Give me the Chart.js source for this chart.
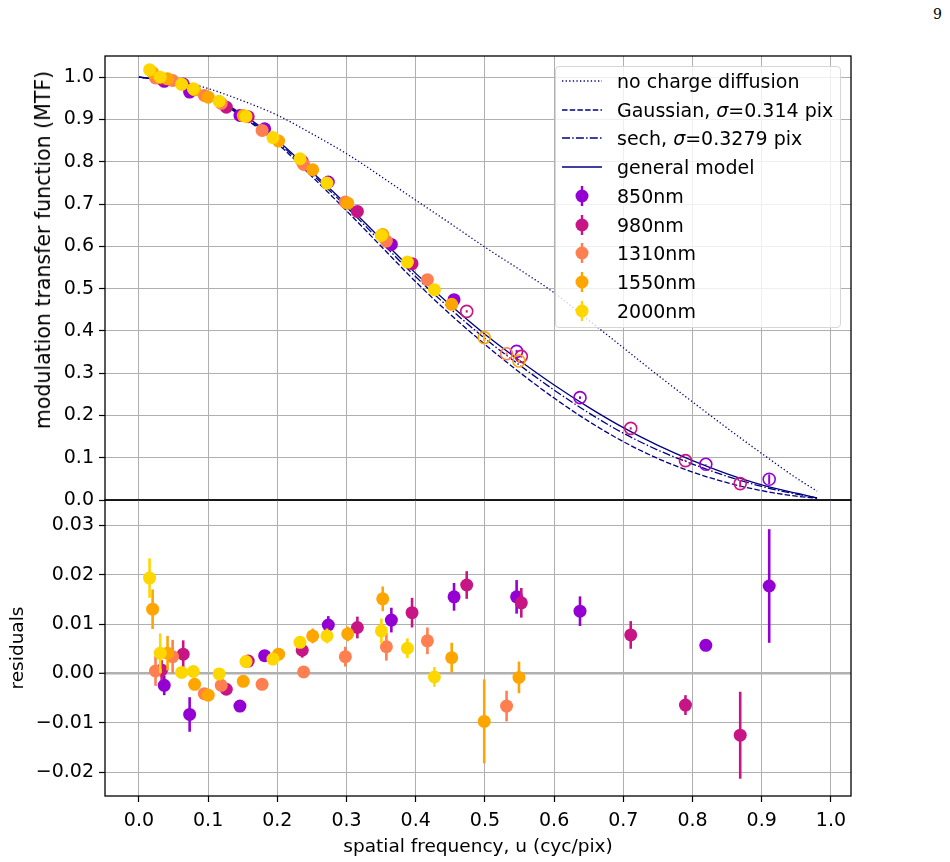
<!DOCTYPE html>
<html><head><meta charset="utf-8">
<script src="https://cdn.jsdelivr.net/npm/chart.js@4.4.1/dist/chart.umd.min.js"></script>
<style>
html,body{margin:0;padding:0;background:#fff;width:950px;height:862px;overflow:hidden;font-family:"DejaVu Sans",sans-serif;}
#wtop{position:absolute;left:0;top:0;width:950px;height:516px;}
#wbot{position:absolute;left:0;top:490px;width:950px;height:372px;}
#pageno{position:absolute;left:933px;top:6px;font-family:"DejaVu Serif",serif;font-size:14px;color:#000;}
#ylabTop{position:absolute;left:43px;top:250px;width:0;height:0;}
#ylabTop span{position:absolute;left:0;top:0;transform:translate(-50%,-50%) rotate(-90deg);white-space:nowrap;font-size:20.5px;line-height:24px;color:#000;}
#legend{position:absolute;left:555px;top:66px;width:286px;height:262px;box-sizing:border-box;border:1px solid #d6d6d6;border-radius:4px;background:rgba(255,255,255,0.8);}
.row{position:absolute;left:0;height:28px;width:280px;}
.row svg{position:absolute;left:5px;top:0;}
.row span{position:absolute;left:61px;top:2px;font-size:19px;line-height:24px;color:#000;white-space:nowrap;}
</style></head>
<body>
<div id="pageno">9</div>
<div id="wtop"><canvas id="ctop" width="950" height="516"></canvas></div>
<div id="wbot"><canvas id="cbot" width="950" height="372"></canvas></div>
<div id="ylabTop"><span id="ylabTopText"></span></div>
<div id="legend"></div>
<script>
// ---------- data ----------
const X_TICKS = [0.0,0.1,0.2,0.3,0.4,0.5,0.6,0.7,0.8,0.9,1.0];
const X_TICK_LABELS = ['0.0','0.1','0.2','0.3','0.4','0.5','0.6','0.7','0.8','0.9','1.0'];
const Y_MTF_TICKS = [0.0,0.1,0.2,0.3,0.4,0.5,0.6,0.7,0.8,0.9,1.0];
const Y_MTF_TICK_LABELS = ['0.0','0.1','0.2','0.3','0.4','0.5','0.6','0.7','0.8','0.9','1.0'];
const Y_RES_TICKS = [-0.02,-0.01,0.0,0.01,0.02,0.03];
const Y_RES_TICK_LABELS = ['\u22120.02','\u22120.01','0.00','0.01','0.02','0.03'];

const X_TITLE = 'spatial frequency, u (cyc/pix)';
const Y_TITLE_MTF = 'modulation transfer function (MTF)';
const Y_TITLE_RES = 'residuals';

const CURVE_LABELS = ['no charge diffusion','Gaussian, \u03c3=0.314 pix','sech, \u03c3=0.3279 pix','general model'];
const U_CURVE = [0.00,0.05,0.10,0.15,0.20,0.25,0.30,0.35,0.40,0.45,0.50,0.55,0.60,0.65,0.70,0.75,0.80,0.85,0.90,0.95,0.98];
const MTF_NO_DIFFUSION = [1.000,0.993,0.973,0.944,0.910,0.866,0.819,0.765,0.709,0.654,0.598,0.545,0.490,0.425,0.360,0.295,0.232,0.170,0.110,0.052,0.021];
const MTF_GAUSSIAN = [1.000,0.988,0.955,0.906,0.843,0.765,0.684,0.600,0.516,0.439,0.368,0.302,0.241,0.186,0.138,0.098,0.066,0.041,0.022,0.009,0.004];
const MTF_SECH = [1.000,0.988,0.957,0.909,0.847,0.771,0.693,0.610,0.528,0.452,0.382,0.319,0.260,0.206,0.158,0.118,0.085,0.056,0.032,0.014,0.005];
const MTF_GENERAL = [1.000,0.989,0.958,0.912,0.851,0.776,0.699,0.617,0.536,0.461,0.392,0.330,0.272,0.219,0.171,0.129,0.093,0.062,0.036,0.016,0.005];

const WAVELENGTHS = ['850nm','980nm','1310nm','1550nm','2000nm'];

const U_850 = [0.0366,0.0733,0.146,0.1817,0.2737,0.3648,0.4554,0.5458,0.6374,0.8192,0.9108];
const MTF_850 = [0.990,0.9646,0.9095,0.878,0.752,0.6045,0.4738,0.3515,0.2421,0.0844,0.049];
const RES_850 = [-0.0024,-0.0083,-0.0066,0.0036,0.0098,0.0108,0.0155,0.0155,0.0126,0.0057,0.0177];
const ERR_850 = [0.002,0.0035,0.001,0.001,0.0018,0.0025,0.0028,0.0034,0.003,0.0007,0.0115];

const U_980 = [0.0328,0.064,0.1263,0.158,0.236,0.3157,0.3947,0.4737,0.5526,0.7107,0.7898,0.8689];
const MTF_980 = [0.9955,0.984,0.929,0.9065,0.801,0.6825,0.5589,0.4461,0.3397,0.1693,0.0931,0.0388];
const RES_980 = [0.0007,0.0039,-0.0032,0.0025,0.0047,0.0093,0.0123,0.0179,0.0143,0.0078,-0.0064,-0.0125];
const ERR_980 = [0.002,0.0028,0.001,0.001,0.0015,0.0022,0.003,0.0028,0.003,0.0028,0.002,0.0088];

const U_1310 = [0.024,0.0487,0.0945,0.119,0.178,0.238,0.2983,0.3576,0.4169,0.5313];
const MTF_1310 = [0.998,0.992,0.9567,0.938,0.874,0.7936,0.7045,0.6123,0.521,0.346];
const RES_1310 = [0.0005,0.0034,-0.0041,-0.0024,-0.0022,0.0003,0.0034,0.0054,0.0066,-0.0066];
const ERR_1310 = [0.003,0.0034,0.001,0.001,0.001,0.001,0.002,0.0028,0.0027,0.0031];

const U_1550 = [0.0198,0.0414,0.0805,0.1002,0.1508,0.2019,0.2511,0.3017,0.3523,0.452,0.499,0.5492];
const MTF_1550 = [1.011,0.996,0.970,0.9527,0.909,0.8487,0.781,0.702,0.628,0.4627,0.384,0.3286];
const RES_1550 = [0.013,0.0041,-0.0022,-0.0044,-0.0016,0.0039,0.0076,0.008,0.0151,0.0032,-0.0097,-0.0008];
const ERR_1550 = [0.004,0.0035,0.001,0.001,0.001,0.001,0.0015,0.0015,0.0025,0.003,0.0085,0.0032];

const U_2000 = [0.0154,0.0308,0.0617,0.0786,0.116,0.1547,0.1937,0.2328,0.2718,0.3504,0.388,0.427];
const MTF_2000 = [1.0175,1.0,0.983,0.9725,0.943,0.907,0.857,0.807,0.7494,0.6258,0.5627,0.4974];
const RES_2000 = [0.0193,0.0041,0.0002,0.0004,-0.0001,0.0024,0.0029,0.0063,0.0076,0.0086,0.0051,-0.0007];
const ERR_2000 = [0.004,0.004,0.001,0.001,0.001,0.001,0.001,0.001,0.0015,0.0025,0.002,0.002];

// points above this frequency are drawn as open circles in the MTF panel
const OPEN_ABOVE = 0.46;

// ---------- styles ----------
const NAVY = '#000080';
const COLORS = ['#9400D3','#C71585','#FF7F50','#FFA500','#FFD700'];
const LINE_DASHES = [[1.3,2.3],[5.5,2.2],[8,2.2,1.5,2.2],[]];
const GRID = '#b0b0b0';
const FONT = '"DejaVu Sans", sans-serif';
const TICK_SIZE = 19;

const SERIES = [
  {u:U_850,m:MTF_850,r:RES_850,e:ERR_850},
  {u:U_980,m:MTF_980,r:RES_980,e:ERR_980},
  {u:U_1310,m:MTF_1310,r:RES_1310,e:ERR_1310},
  {u:U_1550,m:MTF_1550,r:RES_1550,e:ERR_1550},
  {u:U_2000,m:MTF_2000,r:RES_2000,e:ERR_2000}
];
const CURVES = [MTF_NO_DIFFUSION,MTF_GAUSSIAN,MTF_SECH,MTF_GENERAL];

// ---------- plugins ----------
const errorBars = {
  id:'errorBars',
  beforeDatasetDraw(chart,args){
    const ds = chart.data.datasets[args.index];
    if(!ds.errors) return;
    const xs = chart.scales.x, ys = chart.scales.y, ctx = chart.ctx, a = chart.chartArea;
    ctx.save();
    ctx.beginPath();
    ctx.rect(a.left,a.top,a.right-a.left,a.bottom-a.top);
    ctx.clip();
    ctx.strokeStyle = ds.barColor;
    ctx.lineWidth = ds.barWidth;
    ds.data.forEach((p,i)=>{
      const px = xs.getPixelForValue(p.x);
      ctx.beginPath();
      ctx.moveTo(px, ys.getPixelForValue(p.y - ds.errors[i]));
      ctx.lineTo(px, ys.getPixelForValue(p.y + ds.errors[i]));
      ctx.stroke();
    });
    ctx.restore();
  }
};
const frame = {
  id:'frame',
  afterDraw(chart){
    const a = chart.chartArea, ctx = chart.ctx;
    ctx.save();
    ctx.strokeStyle = '#000';
    ctx.lineWidth = 1.3;
    ctx.strokeRect(a.left,a.top,a.right-a.left,a.bottom-a.top);
    ctx.restore();
  }
};

function setTicks(vals){ return s => { s.ticks = vals.map(v=>({value:v})); }; }
function tickLabel(vals,labels){ return (v) => { const i = vals.findIndex(t=>Math.abs(t-v)<1e-9); return i>=0 ? labels[i] : ''; }; }

// ---------- top chart ----------
const topDatasets = [];
CURVES.forEach((c,k)=>{
  topDatasets.push({
    type:'line', label:CURVE_LABELS[k],
    data:U_CURVE.map((u,i)=>({x:u,y:c[i]})),
    borderColor:NAVY, borderWidth:1.3, borderDash:LINE_DASHES[k],
    pointRadius:0, fill:false, cubicInterpolationMode:'monotone', order:20+k
  });
});
SERIES.forEach((s,k)=>{
  const col = COLORS[k];
  topDatasets.push({
    type:'scatter', label:WAVELENGTHS[k],
    data:s.u.map((u,i)=>({x:u,y:s.m[i]})),
    errors:s.e, barColor:col, barWidth:2,
    pointRadius:ctx=> (ctx.raw && ctx.raw.x>OPEN_ABOVE) ? 6 : 6.5,
    pointBackgroundColor:ctx=> (ctx.raw && ctx.raw.x>OPEN_ABOVE) ? 'rgba(0,0,0,0)' : col,
    pointBorderColor:col,
    pointBorderWidth:ctx=> (ctx.raw && ctx.raw.x>OPEN_ABOVE) ? 1.6 : 0,
    pointHoverRadius:6.5,
    order:10-k
  });
});

const commonY = (ticks,labels,min,max,title,tsize,tpad,zeroThick) => ({
  type:'linear', min:min, max:max,
  afterBuildTicks:setTicks(ticks),
  afterFit:s=>{ s.width = 105; s.paddingTop = 0; s.paddingBottom = 0; },
  ticks:{callback:tickLabel(ticks,labels), color:'#000', font:{family:FONT,size:TICK_SIZE}, padding:5},
  grid:{color:GRID, lineWidth:ctx=> (zeroThick && ctx.tick && Math.abs(ctx.tick.value)<1e-12) ? 2.6 : 1, tickColor:'#000', tickLength:6, tickWidth:1.2},
  border:{display:false},
  title:{display:!!title, text:title||'', color:'#000', font:{family:FONT,size:tsize}, padding:{top:tpad,bottom:0}}
});

new Chart(document.getElementById('ctop'),{
  data:{datasets:topDatasets},
  options:{
    responsive:false, animation:false, devicePixelRatio:1,
    layout:{autoPadding:false, padding:{left:0,right:99,top:56,bottom:16}},
    plugins:{legend:{display:false},tooltip:{enabled:false}},
    scales:{
      x:{type:'linear', min:-0.049, max:1.029,
        afterBuildTicks:setTicks(X_TICKS),
        afterFit:s=>{ s.height = 0; s.paddingLeft = 0; s.paddingRight = 0; },
        ticks:{display:false},
        grid:{color:GRID, lineWidth:1, drawTicks:false},
        border:{display:false}},
      y:commonY(Y_MTF_TICKS,Y_MTF_TICK_LABELS,0,1.05,null,20.5,30,false)
    }
  },
  plugins:[errorBars,frame]
});

// ---------- bottom chart ----------
const botDatasets = SERIES.map((s,k)=>({
  type:'scatter', label:WAVELENGTHS[k],
  data:s.u.map((u,i)=>({x:u,y:s.r[i]})),
  errors:s.e, barColor:COLORS[k], barWidth:2.6,
  pointRadius:6.5, pointBackgroundColor:COLORS[k], pointBorderWidth:0, pointHoverRadius:6.5,
  order:10-k
}));

new Chart(document.getElementById('cbot'),{
  data:{datasets:botDatasets},
  options:{
    responsive:false, animation:false, devicePixelRatio:1,
    layout:{autoPadding:false, padding:{left:0,right:99,top:10,bottom:0}},
    plugins:{legend:{display:false},tooltip:{enabled:false}},
    scales:{
      x:{type:'linear', min:-0.049, max:1.029,
        afterBuildTicks:setTicks(X_TICKS),
        afterFit:s=>{ s.height = 66; s.paddingLeft = 0; s.paddingRight = 0; },
        ticks:{callback:tickLabel(X_TICKS,X_TICK_LABELS), color:'#000', font:{family:FONT,size:TICK_SIZE}, padding:8, maxRotation:0, autoSkip:false},
        grid:{color:GRID, lineWidth:1, tickColor:'#000', tickLength:6, tickWidth:1.2},
        border:{display:false},
        title:{display:true, text:X_TITLE, color:'#000', font:{family:FONT,size:18.5}, padding:{top:0,bottom:3.6}}},
      y:commonY(Y_RES_TICKS,Y_RES_TICK_LABELS,-0.0248,0.0351,Y_TITLE_RES,18.5,7,true)
    }
  },
  plugins:[errorBars,frame]
});

// ---------- top y-axis title (placed as in the reference) ----------
document.getElementById('ylabTopText').textContent = Y_TITLE_MTF;

// ---------- legend (HTML) ----------
const leg = document.getElementById('legend');
const rows = [];
CURVE_LABELS.forEach((lab,k)=>{
  const dash = LINE_DASHES[k].length ? `stroke-dasharray="${LINE_DASHES[k].join(' ')}"` : '';
  rows.push({svg:`<line x1="1" y1="14" x2="41" y2="14" stroke="${NAVY}" stroke-width="1.3" ${dash}/>`, text:lab});
});
WAVELENGTHS.forEach((lab,k)=>{
  rows.push({svg:`<line x1="21" y1="4" x2="21" y2="24" stroke="${COLORS[k]}" stroke-width="2.4"/><circle cx="21" cy="14" r="6.5" fill="${COLORS[k]}"/>`, text:lab});
});
rows.forEach((r,i)=>{
  const d = document.createElement('div');
  d.className='row';
  d.style.top = (i*28.7)+'px';
  d.innerHTML = `<svg width="44" height="28">${r.svg}</svg><span>${r.text.replace('\u03c3','<i>\u03c3</i>')}</span>`;
  leg.appendChild(d);
});
</script>
</body></html>
